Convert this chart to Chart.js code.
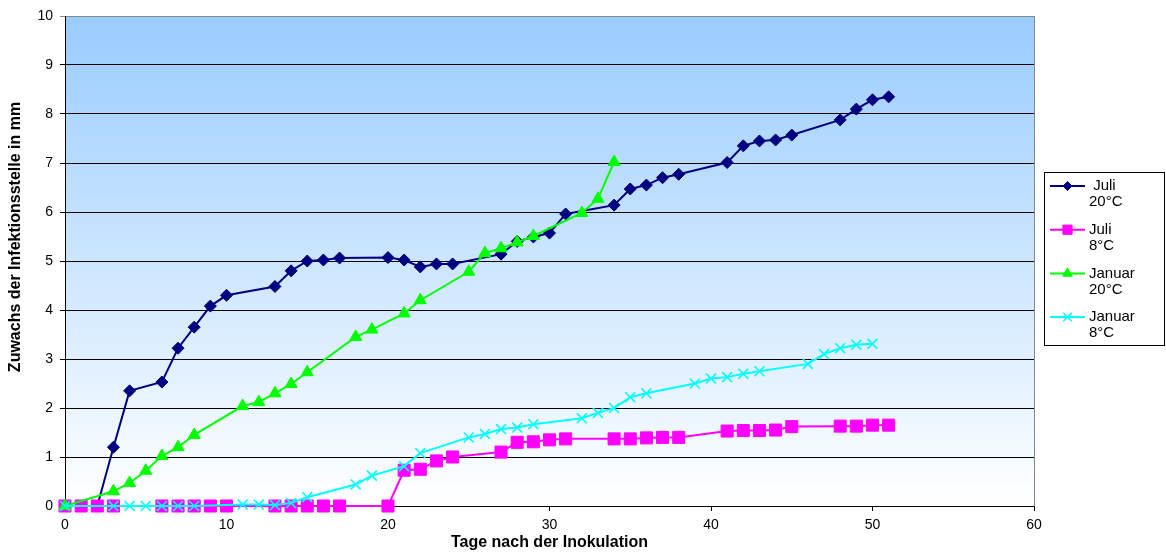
<!DOCTYPE html>
<html>
<head>
<meta charset="utf-8">
<script src="https://cdn.jsdelivr.net/npm/chart.js@4/dist/chart.umd.min.js"></script>
<style>
  html, body { margin: 0; padding: 0; background: #fff; }
  #wrap { width: 1166px; height: 556px; }
</style>
</head>
<body>
<div id="wrap"><canvas id="myChart" width="1166" height="556"></canvas></div>
<script>
// Juli 20°C
const juli20Days = [0, 1, 2, 3, 4, 6, 7, 8, 9, 10, 13, 14, 15, 16, 17, 20, 21, 22, 23, 24, 27, 28, 29, 30, 31, 34, 35, 36, 37, 38, 41, 42, 43, 44, 45, 48, 49, 50, 51];
const juli20Values = [0, 0, 0, 1.2, 2.35, 2.53, 3.22, 3.65, 4.08, 4.3, 4.48, 4.8, 5.0, 5.02, 5.06, 5.07, 5.02, 4.88, 4.94, 4.94, 5.14, 5.4, 5.49, 5.57, 5.96, 6.14, 6.47, 6.55, 6.7, 6.77, 7.01, 7.35, 7.45, 7.47, 7.57, 7.88, 8.1, 8.29, 8.35];

// Juli 8°C
const juli8Days = [0, 1, 2, 3, 6, 7, 8, 9, 10, 13, 14, 15, 16, 17, 20, 21, 22, 23, 24, 27, 28, 29, 30, 31, 34, 35, 36, 37, 38, 41, 42, 43, 44, 45, 48, 49, 50, 51];
const juli8Values = [0, 0, 0, 0, 0, 0, 0, 0, 0, 0, 0, 0, 0, 0, 0, 0.73, 0.75, 0.92, 1.0, 1.1, 1.3, 1.31, 1.35, 1.37, 1.37, 1.37, 1.39, 1.4, 1.4, 1.53, 1.54, 1.54, 1.55, 1.62, 1.63, 1.63, 1.65, 1.65];

// Januar 20°C
const januar20Days = [0, 3, 4, 5, 6, 7, 8, 11, 12, 13, 14, 15, 18, 19, 21, 22, 25, 26, 27, 28, 29, 32, 33, 34];
const januar20Values = [0, 0.3, 0.47, 0.72, 1.02, 1.2, 1.45, 2.04, 2.12, 2.3, 2.49, 2.73, 3.45, 3.6, 3.93, 4.2, 4.78, 5.16, 5.26, 5.38, 5.51, 5.98, 6.27, 7.02];

// Januar 8°C
const januar8Days = [0, 3, 4, 5, 6, 7, 8, 11, 12, 13, 14, 15, 18, 19, 21, 22, 25, 26, 27, 28, 29, 32, 33, 34, 35, 36, 39, 40, 41, 42, 43, 46, 47, 48, 49, 50];
const januar8Values = [0, 0, 0, 0, 0, 0, 0, 0.03, 0.03, 0.02, 0.06, 0.18, 0.44, 0.62, 0.81, 1.08, 1.4, 1.47, 1.57, 1.6, 1.67, 1.79, 1.9, 2.0, 2.22, 2.3, 2.5, 2.6, 2.63, 2.7, 2.75, 2.9, 3.1, 3.22, 3.29, 3.31];

const legendLabels = [['Juli', '20°C'], ['Juli', '8°C'], ['Januar', '20°C'], ['Januar', '8°C']];
const xTitle = 'Tage nach der Inokulation';
const yTitle = 'Zuwachs der Infektionsstelle in mm';

function toPoints(days, values) {
  return days.map((d, i) => ({ x: d, y: values[i] }));
}

const FONT = "'Liberation Sans', Arial, sans-serif";

const series = [
  { label: 'Juli 20°C', data: toPoints(juli20Days, juli20Values), color: '#000080', style: 'rectRot', radius: 6, legendRadius: 4.5, width: 2, order: 4 },
  { label: 'Juli 8°C', data: toPoints(juli8Days, juli8Values), color: '#ff00ff', style: 'rect', radius: 8.5, legendRadius: 6.5, width: 2, order: 3 },
  { label: 'Januar 20°C', data: toPoints(januar20Days, januar20Values), color: '#00ff00', style: 'triangle', radius: 7, legendRadius: 5.5, width: 2, order: 2 },
  { label: 'Januar 8°C', data: toPoints(januar8Days, januar8Values), color: '#00ffff', style: 'crossRot', radius: 7, legendRadius: 6, width: 2, order: 1 }
];

// blue gradient plot background and grey frame
const plotBackground = {
  id: 'plotBackground',
  beforeDraw(chart) {
    const { ctx, chartArea: a } = chart;
    const g = ctx.createLinearGradient(0, a.top, 0, a.bottom);
    g.addColorStop(0, '#99ccff');
    g.addColorStop(1, '#ffffff');
    ctx.save();
    ctx.fillStyle = g;
    ctx.fillRect(a.left, a.top, a.right - a.left, a.bottom - a.top);
    ctx.restore();
  },
  afterDraw(chart) {
    const { ctx, chartArea: a } = chart;
    ctx.save();
    ctx.strokeStyle = '#888888';
    ctx.lineWidth = 1;
    ctx.beginPath();
    ctx.moveTo(a.right + 0.5, a.top);
    ctx.lineTo(a.right + 0.5, a.bottom);
    ctx.stroke();
    ctx.restore();
  }
};

// y title and the two-line legend box
const extras = {
  id: 'extras',
  afterDraw(chart) {
    const ctx = chart.ctx;
    ctx.save();
    ctx.fillStyle = '#000';
    ctx.font = 'bold 16px ' + FONT;
    ctx.textAlign = 'center';
    ctx.textBaseline = 'middle';
    ctx.translate(16, 237);
    ctx.rotate(-Math.PI / 2);
    ctx.fillText(yTitle, 0, 0);
    ctx.restore();

    ctx.save();
    ctx.fillStyle = '#fff';
    ctx.fillRect(1044, 172, 121, 174);
    ctx.strokeStyle = '#000';
    ctx.lineWidth = 1;
    ctx.strokeRect(1044.5, 172.5, 120, 173);
    ctx.font = '15px ' + FONT;
    ctx.textAlign = 'left';
    ctx.textBaseline = 'middle';
    series.forEach((s, i) => {
      const y = 186 + i * 43.7;
      ctx.strokeStyle = s.color;
      ctx.lineWidth = 2;
      ctx.beginPath();
      ctx.moveTo(1050, y);
      ctx.lineTo(1085, y);
      ctx.stroke();
      ctx.fillStyle = s.color;
      ctx.strokeStyle = s.color;
      ctx.lineWidth = s.style === 'crossRot' ? 1.5 : 1;
      Chart.helpers.drawPoint(ctx, { pointStyle: s.style, radius: s.legendRadius, rotation: 0, borderWidth: ctx.lineWidth }, 1067.5, y);
      ctx.fillStyle = '#000';
      const lines = legendLabels[i];
      ctx.fillText((i === 0 ? ' ' : '') + lines[0], 1089, y);
      ctx.fillText(lines[1], 1089, y + 16);
    });
    ctx.restore();
  }
};

new Chart(document.getElementById('myChart'), {
  type: 'line',
  data: {
    datasets: series.map(s => ({
      label: s.label,
      data: s.data,
      order: s.order,
      clip: false,
      borderColor: s.color,
      backgroundColor: s.color,
      borderWidth: s.width,
      pointStyle: s.style,
      pointRadius: s.radius,
      pointBorderWidth: s.style === 'crossRot' ? 1.6 : 1,
      pointBackgroundColor: s.color,
      pointBorderColor: s.color,
      fill: false,
      tension: 0
    }))
  },
  options: {
    responsive: false,
    animation: false,
    layout: { padding: { top: 16, right: 132, left: 0, bottom: 0 } },
    scales: {
      x: {
        type: 'linear',
        min: 0,
        max: 60,
        afterFit(scale) { scale.height = 50; },
        ticks: { stepSize: 10, color: '#000', font: { family: FONT, size: 14 }, padding: 6, maxRotation: 0 },
        grid: { drawOnChartArea: false, drawTicks: true, tickLength: 5, color: '#000' },
        border: { color: '#000', width: 1 },
        title: { display: true, text: xTitle, color: '#000', font: { family: FONT, size: 16, weight: 'bold' }, padding: { top: 0, bottom: 4 } }
      },
      y: {
        min: 0,
        max: 10,
        afterFit(scale) { scale.width = 65; },
        ticks: { stepSize: 1, color: '#000', font: { family: FONT, size: 14 }, padding: 7 },
        grid: {
          color: c => (c.tick && c.tick.value === 10 ? '#888888' : '#000000'),
          lineWidth: 1,
          tickLength: 5
        },
        border: { color: '#000', width: 1 }
      }
    },
    plugins: {
      legend: { display: false },
      tooltip: { enabled: false }
    }
  },
  plugins: [plotBackground, extras]
});
</script>
</body>
</html>
